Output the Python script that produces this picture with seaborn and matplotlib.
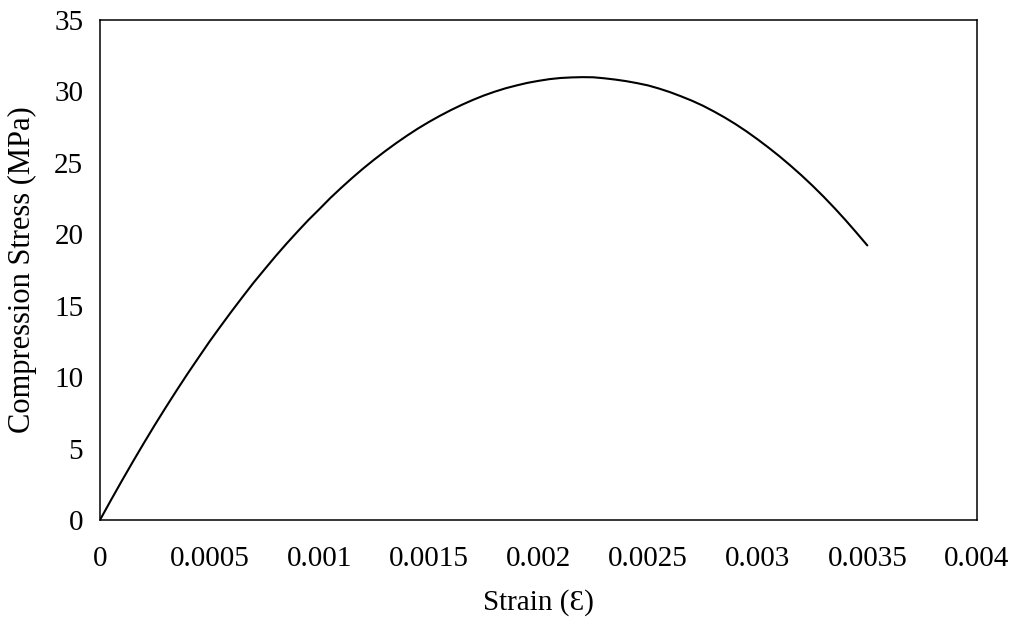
import matplotlib
matplotlib.use("Agg")
import matplotlib.pyplot as plt
import seaborn as sns
import pandas as pd

# values
strain = [0.0, 0.00005, 0.0001, 0.00015, 0.0002, 0.00025, 0.0003, 0.00035,
          0.0004, 0.00045, 0.0005, 0.00055, 0.0006, 0.00065, 0.0007, 0.00075,
          0.0008, 0.00085, 0.0009, 0.00095, 0.0010, 0.00105, 0.0011, 0.00115,
          0.0012, 0.00125, 0.0013, 0.00135, 0.0014, 0.00145, 0.0015, 0.00155,
          0.0016, 0.00165, 0.0017, 0.00175, 0.0018, 0.00185, 0.0019, 0.00195,
          0.0020, 0.00205, 0.0021, 0.00215, 0.0022, 0.00225, 0.0023, 0.00235,
          0.0024, 0.00245, 0.0025, 0.00255, 0.0026, 0.00265, 0.0027, 0.00275,
          0.0028, 0.00285, 0.0029, 0.00295, 0.0030, 0.00305, 0.0031, 0.00315,
          0.0032, 0.00325, 0.0033, 0.00335, 0.0034, 0.00345, 0.0035]
stress = [0.0, 1.39, 2.75, 4.08, 5.38, 6.65, 7.88, 9.08,
          10.25, 11.38, 12.5, 13.56, 14.6, 15.61, 16.6, 17.53,
          18.45, 19.33, 20.17, 20.99, 21.75, 22.53, 23.25, 23.94,
          24.6, 25.22, 25.81, 26.37, 26.9, 27.4, 27.86, 28.29,
          28.69, 29.06, 29.4, 29.71, 29.98, 30.22, 30.42, 30.6,
          30.74, 30.86, 30.94, 30.98, 31.0, 30.99, 30.92, 30.83,
          30.72, 30.58, 30.42, 30.2, 29.95, 29.66, 29.35, 29.0,
          28.6, 28.17, 27.7, 27.19, 26.64, 26.06, 25.45, 24.8,
          24.12, 23.4, 22.64, 21.84, 21.0, 20.12, 19.22]

x_ticks = [0, 0.0005, 0.001, 0.0015, 0.002, 0.0025, 0.003, 0.0035, 0.004]
x_tick_labels = ["0", "0.0005", "0.001", "0.0015", "0.002", "0.0025", "0.003", "0.0035", "0.004"]
y_ticks = [0, 5, 10, 15, 20, 25, 30, 35]

df = pd.DataFrame({"strain": strain, "stress": stress})

sns.set_style("white")
plt.rcParams["font.family"] = ["Liberation Serif", "DejaVu Serif"]

fig = plt.figure(figsize=(10.18, 6.23), dpi=100)
ax = fig.add_axes([0.0982, 0.1653, 0.8615, 0.8026])

sns.lineplot(data=df, x="strain", y="stress", color="black", linewidth=1.5, ax=ax)

ax.set_xlim(0, 0.004)
ax.set_ylim(0, 35)
ax.set_xticks(x_ticks)
ax.set_xticklabels(x_tick_labels)
ax.set_yticks(y_ticks)
ax.tick_params(axis="both", direction="in", length=6, width=1.1,
               color="black", labelsize=21, labelcolor="black")
ax.tick_params(axis="x", pad=19)
ax.tick_params(axis="y", pad=12)

for s in ax.spines.values():
    s.set_visible(True)
    s.set_color("black")
    s.set_linewidth(1.1)

ax.set_xlabel("Strain (Ɛ)", fontsize=21, color="black", labelpad=12)
ax.set_ylabel("Compression Stress (MPa)", fontsize=22, color="black", labelpad=12)

fig.savefig("out.png", dpi=100)
